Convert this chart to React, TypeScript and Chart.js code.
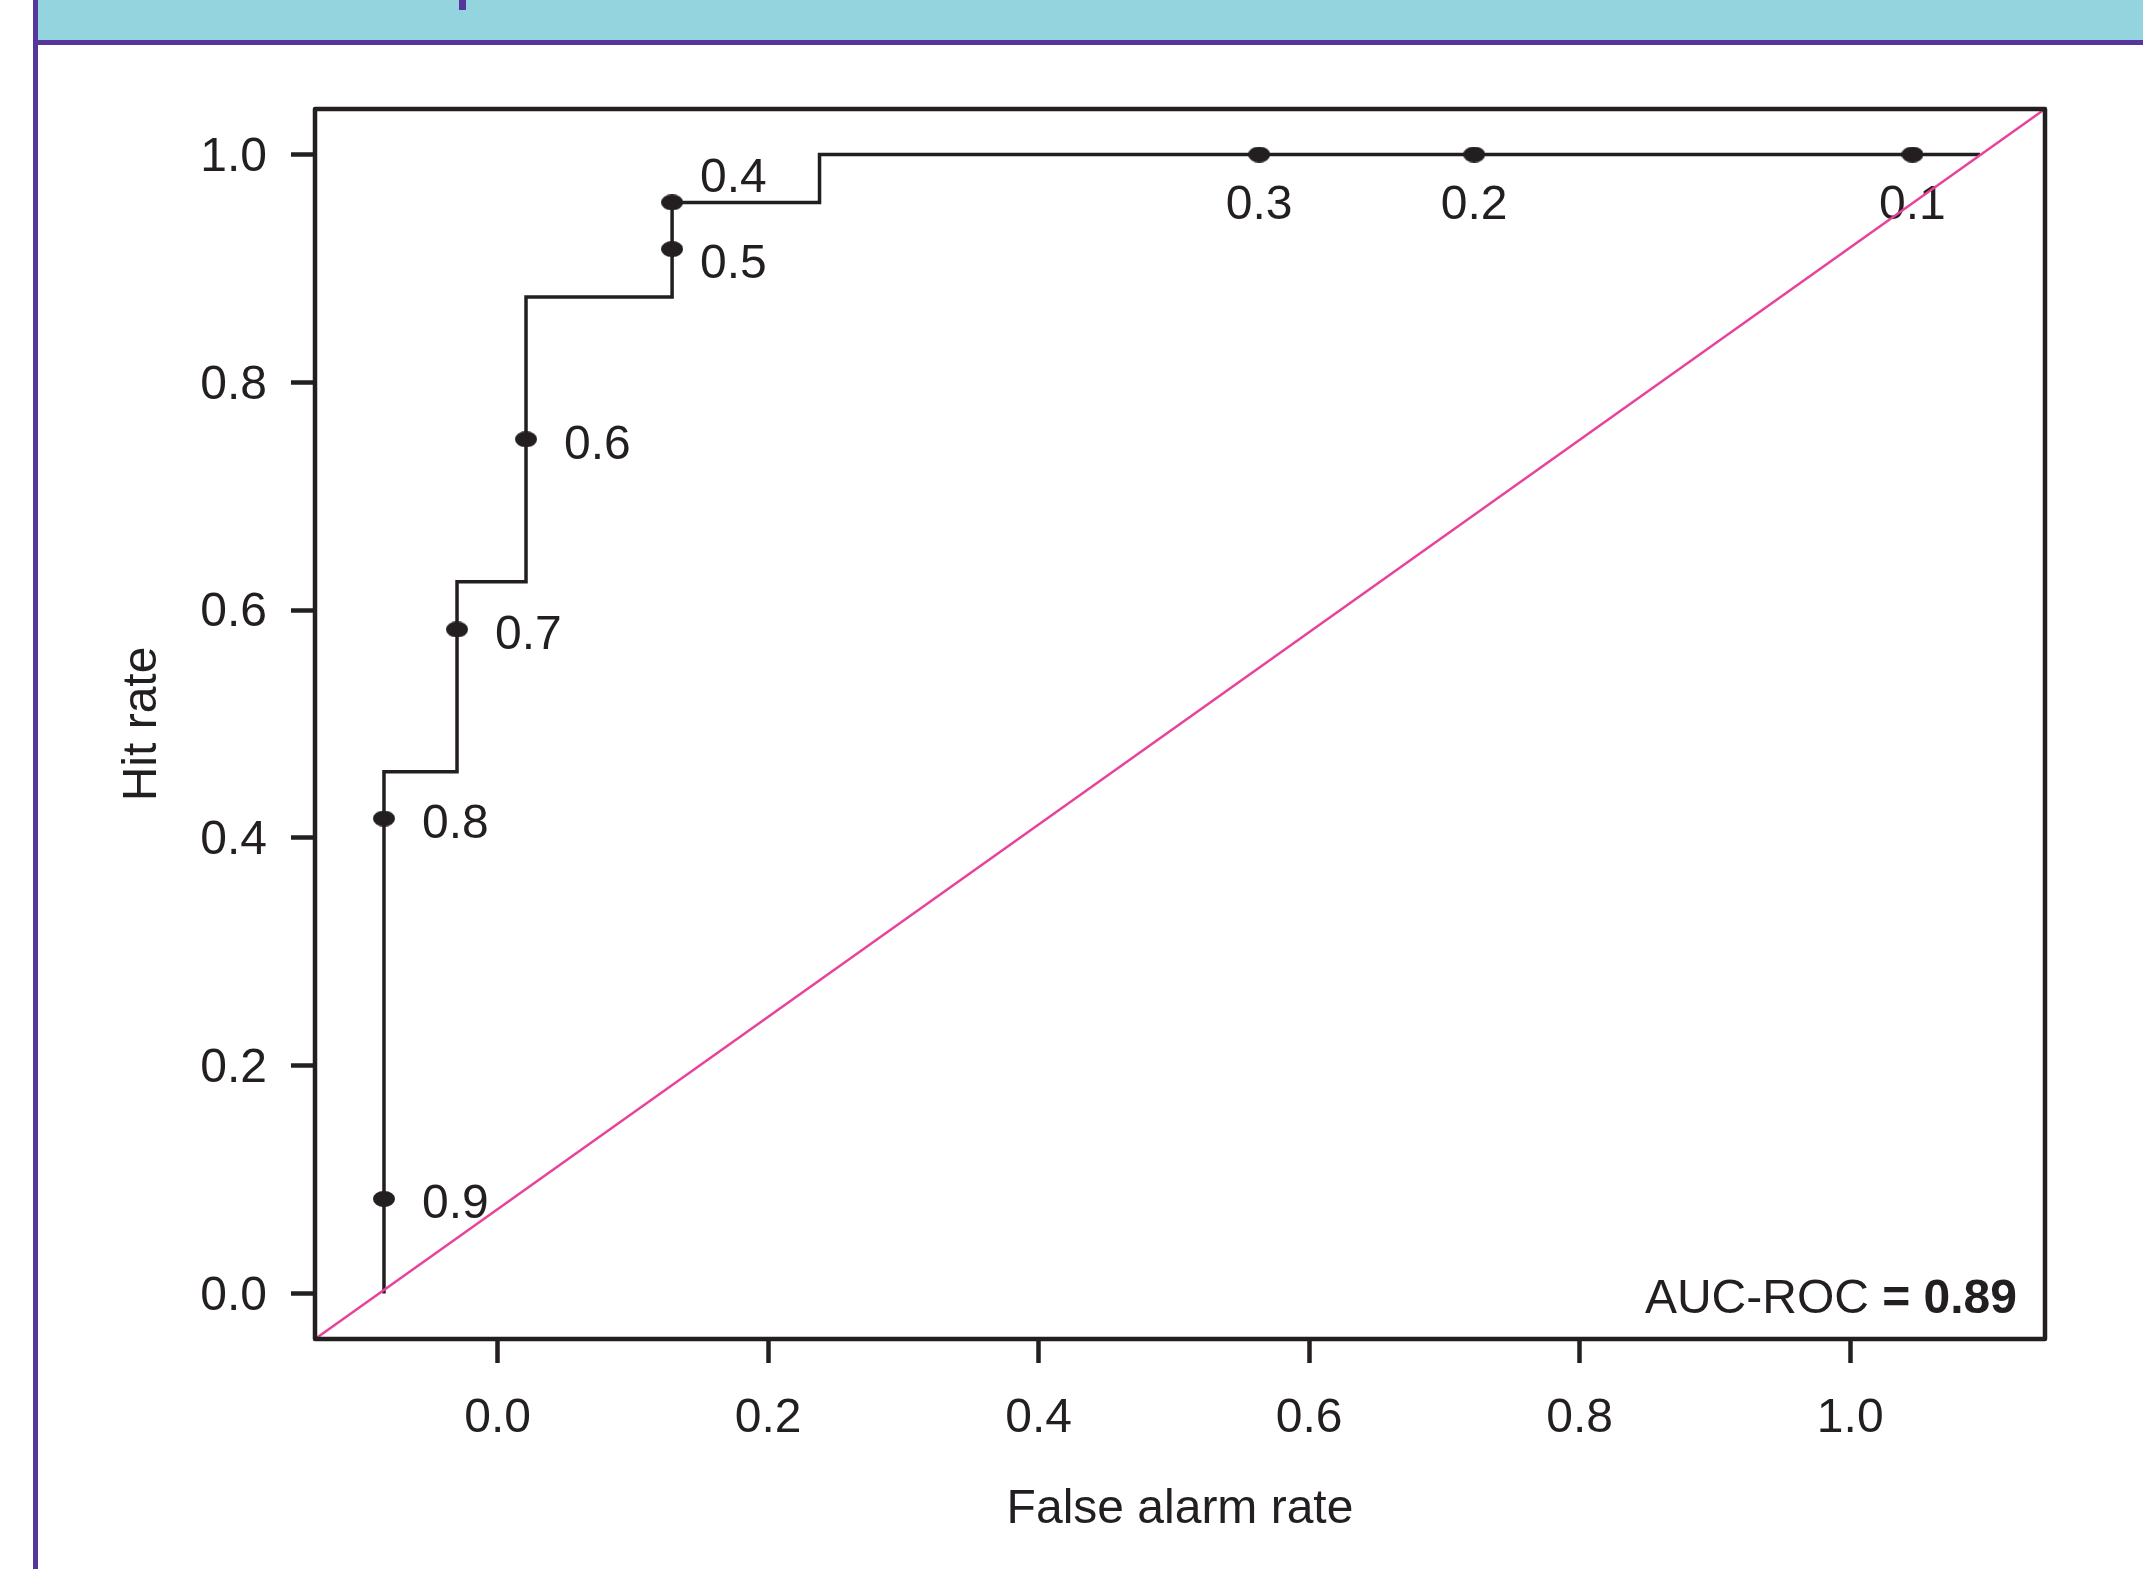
import React, { useEffect, useRef } from "react";
import { Chart, registerables } from "chart.js";

Chart.register(...registerables);

// ---------- data ----------
const xTickValues = [0, 0.2, 0.4, 0.6, 0.8, 1.0];
const xTickLabels = ["0.0", "0.2", "0.4", "0.6", "0.8", "1.0"];
const yTickValues = [0, 0.2, 0.4, 0.6, 0.8, 1.0];
const yTickLabels = ["0.0", "0.2", "0.4", "0.6", "0.8", "1.0"];
const xRange = [-0.135, 1.144];
const yRange = [-0.04, 1.04];

// ROC step curve: x of each vertical rise and the hit rate reached
const stepX = [-0.084, -0.03, 0.021, 0.129, 0.238];
const stepY = [0.458, 0.625, 0.875, 0.958, 1.0];
const curveStartY = 0;
const curveEndX = 1.096;

// probability thresholds marked on the curve
const thresholdLabels = ["0.9", "0.8", "0.7", "0.6", "0.5", "0.4", "0.3", "0.2", "0.1"];
const thresholdX = [-0.084, -0.084, -0.03, 0.021, 0.129, 0.129, 0.563, 0.722, 1.046];
const thresholdY = [0.083, 0.417, 0.583, 0.75, 0.917, 0.958, 1.0, 1.0, 1.0];

const xTitle = "False alarm rate";
const yTitle = "Hit rate";
const aucName = "AUC-ROC ";
const aucValue = "= 0.89";

// ---------- style ----------
const W = 2143;
const H = 1569;
const INK = "#231F20";
const PINK = "#E8439A";
const CYAN = "#93D4DE";
const PURPLE = "#55369A";
const FONT = '"Liberation Sans", Arial, Helvetica, sans-serif';
const FS = 48;

const labelPlacement: Record<string, string> = {
  "0.4": "upright",
  "0.5": "downright",
  "0.3": "below",
  "0.2": "below",
  "0.1": "below",
};

export default function App() {
  const ref = useRef<HTMLCanvasElement | null>(null);

  useEffect(() => {
    document.body.style.margin = "0";
    document.body.style.overflow = "hidden";
    const canvas = ref.current;
    if (!canvas) return;

    // ellipse marker
    const dot = document.createElement("canvas");
    dot.width = 22;
    dot.height = 16;
    const dctx = dot.getContext("2d")!;
    dctx.fillStyle = INK;
    dctx.beginPath();
    dctx.ellipse(11, 8, 11, 8, 0, 0, Math.PI * 2);
    dctx.fill();

    const curve: { x: number; y: number }[] = [];
    let prevY = curveStartY;
    stepX.forEach((x, i) => {
      curve.push({ x, y: prevY });
      curve.push({ x, y: stepY[i] });
      prevY = stepY[i];
    });
    curve.push({ x: curveEndX, y: prevY });

    const points = thresholdX.map((x, i) => ({ x, y: thresholdY[i] }));

    const backgroundPlugin = {
      id: "bg",
      beforeDraw(chart: any) {
        const ctx = chart.ctx;
        ctx.save();
        ctx.fillStyle = "#ffffff";
        ctx.fillRect(0, 0, W, H);
        ctx.fillStyle = CYAN;
        ctx.fillRect(38, 0, W - 38, 40);
        ctx.fillStyle = PURPLE;
        ctx.fillRect(33, 40, W - 33, 5);
        ctx.fillRect(33, 0, 5, H);
        ctx.fillRect(459, 0, 7, 10);
        ctx.restore();
      },
      afterDraw(chart: any) {
        const ctx = chart.ctx;
        const a = chart.chartArea;
        ctx.save();
        ctx.strokeStyle = INK;
        ctx.lineWidth = 4.5;
        ctx.lineJoin = "round";
        ctx.strokeRect(a.left, a.top, a.right - a.left, a.bottom - a.top);
        // AUC annotation
        ctx.fillStyle = INK;
        ctx.textBaseline = "alphabetic";
        ctx.textAlign = "right";
        const rx = a.right - 28;
        const by = a.bottom - 26;
        ctx.font = "bold " + FS + "px " + FONT;
        const bw = ctx.measureText(aucValue).width;
        ctx.fillText(aucValue, rx, by);
        ctx.font = FS + "px " + FONT;
        ctx.fillText(aucName, rx - bw, by);
        ctx.restore();
      },
    };

    const labelPlugin = {
      id: "thrLabels",
      afterDatasetDraw(chart: any, args: any) {
        if (args.index !== 1) return;
        const ctx = chart.ctx;
        const meta = chart.getDatasetMeta(1);
        ctx.save();
        ctx.font = FS + "px " + FONT;
        ctx.fillStyle = INK;
        ctx.textBaseline = "middle";
        meta.data.forEach((pt: any, i: number) => {
          const label = thresholdLabels[i];
          const x = pt.x;
          const y = pt.y;
          const place = labelPlacement[label] || "right";
          let tx = x + 38;
          let ty = y + 6;
          let align: CanvasTextAlign = "left";
          if (place === "upright") {
            tx = x + 28;
            ty = y - 24;
          } else if (place === "downright") {
            tx = x + 28;
            ty = y + 16;
          } else if (place === "below") {
            tx = x;
            ty = y + 51;
            align = "center";
          }
          ctx.textAlign = align;
          ctx.fillText(label, tx, ty);
        });
        ctx.restore();
      },
    };

    const chart = new Chart(canvas, {
      type: "line",
      data: {
        datasets: [
          {
            label: "diagonal",
            data: [
              { x: xRange[0], y: yRange[0] },
              { x: xRange[1], y: yRange[1] },
            ],
            borderColor: PINK,
            borderWidth: 2.5,
            pointRadius: 0,
            fill: false,
          },
          {
            label: "thresholds",
            data: points,
            showLine: false,
            pointStyle: dot as any,
            pointRadius: 11,
            borderWidth: 0,
          },
          {
            label: "roc",
            data: curve,
            borderColor: INK,
            borderWidth: 3.5,
            pointRadius: 0,
            fill: false,
            borderJoinStyle: "miter",
          },
        ],
      },
      options: {
        responsive: false,
        animation: false,
        devicePixelRatio: 1,
        layout: { padding: { top: 109, right: 98, left: 0, bottom: 0 } },
        plugins: {
          legend: { display: false },
          tooltip: { enabled: false },
        },
        events: [],
        scales: {
          x: {
            type: "linear",
            min: xRange[0],
            max: xRange[1],
            afterBuildTicks: (s: any) => {
              s.ticks = xTickValues.map((v) => ({ value: v }));
            },
            afterFit: (s: any) => {
              s.height = H - 1339;
            },
            ticks: {
              autoSkip: false,
              maxRotation: 0,
              padding: 27,
              color: INK,
              font: { size: FS, family: FONT },
              callback: (_v: any, i: number) => xTickLabels[i],
            },
            grid: {
              drawOnChartArea: false,
              drawTicks: true,
              tickLength: 24,
              tickWidth: 4.5,
              tickColor: INK,
            },
            border: { display: false },
            title: {
              display: true,
              text: xTitle,
              color: INK,
              font: { size: FS, family: FONT },
              padding: { top: 0, bottom: 30 },
            },
          },
          y: {
            type: "linear",
            min: yRange[0],
            max: yRange[1],
            afterBuildTicks: (s: any) => {
              s.ticks = yTickValues.map((v) => ({ value: v }));
            },
            afterFit: (s: any) => {
              s.width = 315;
            },
            ticks: {
              autoSkip: false,
              padding: 24,
              labelOffset: 3,
              color: INK,
              font: { size: FS, family: FONT },
              callback: (_v: any, i: number) => yTickLabels[i],
            },
            grid: {
              drawOnChartArea: false,
              drawTicks: true,
              tickLength: 24,
              tickWidth: 4.5,
              tickColor: INK,
            },
            border: { display: false },
            title: {
              display: true,
              text: yTitle,
              color: INK,
              font: { size: FS, family: FONT },
              padding: { top: 114, bottom: 0 },
            },
          },
        },
      },
      plugins: [backgroundPlugin, labelPlugin],
    } as any);

    return () => {
      chart.destroy();
    };
  }, []);

  return (
    <canvas
      ref={ref}
      width={W}
      height={H}
      style={{ display: "block", width: W + "px", height: H + "px" }}
    />
  );
}
